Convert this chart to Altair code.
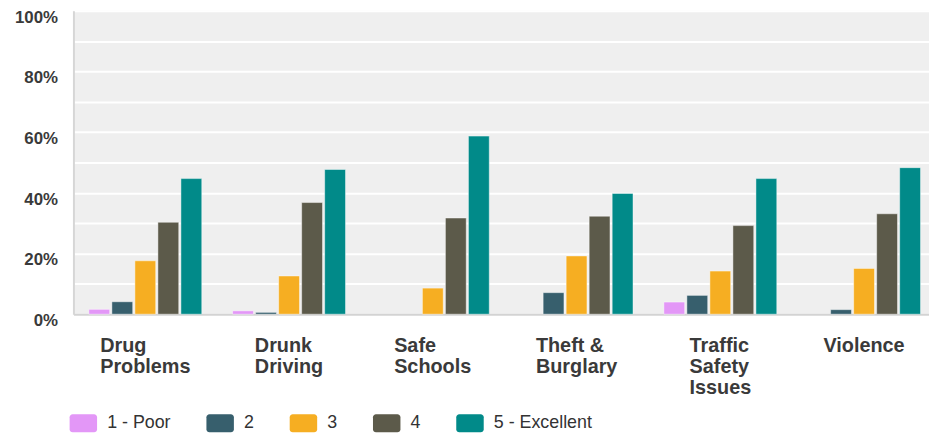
import altair as alt
import pandas as pd

categories = ["Drug Problems", "Drunk Driving", "Safe Schools",
              "Theft & Burglary", "Traffic Safety Issues", "Violence"]
label_lines = {
    "Drug Problems": ["Drug", "Problems"],
    "Drunk Driving": ["Drunk", "Driving"],
    "Safe Schools": ["Safe", "Schools"],
    "Theft & Burglary": ["Theft &", "Burglary"],
    "Traffic Safety Issues": ["Traffic", "Safety", "Issues"],
    "Violence": ["Violence"],
}
# half width of each (left-aligned) label block, used to centre the block
label_half_width = {
    "Drug Problems": 45.5,
    "Drunk Driving": 34.5,
    "Safe Schools": 39,
    "Theft & Burglary": 41,
    "Traffic Safety Issues": 31,
    "Violence": 41,
}

ratings = ["1 - Poor", "2", "3", "4", "5 - Excellent"]
poor = [1.6, 1.1, 0, 0, 4.0, 0]
r2 = [4.1, 0.6, 0, 7.1, 6.2, 1.5]
r3 = [17.6, 12.6, 8.6, 19.2, 14.2, 15.1]
r4 = [30.3, 36.8, 31.7, 32.3, 29.2, 33.1]
excellent = [44.7, 47.7, 58.7, 39.8, 44.7, 48.3]
colors = ["#e397f7", "#375f6d", "#f6ae22", "#5c5a4a", "#018a89"]

series = [poor, r2, r3, r4, excellent]
rows = []
for rating, vals in zip(ratings, series):
    for cat, v in zip(categories, vals):
        rows.append({"category": cat, "rating": rating, "value": v})
df = pd.DataFrame(rows)

label_expr = ""
for cat in categories:
    arr = "[" + ",".join("'" + s + "'" for s in label_lines[cat]) + "]"
    label_expr += f"datum.value == '{cat}' ? {arr} : "
label_expr += "datum.value"

offset_cond = {
    "condition": [
        {"test": f"datum.value == '{cat}'", "value": -label_half_width[cat]}
        for cat in categories
    ],
    "value": -40,
}

legend_shape = ("M-0.78,-0.65 H0.78 A0.22,0.22 0 0 1 1,-0.43 V0.43 "
                "A0.22,0.22 0 0 1 0.78,0.65 H-0.78 A0.22,0.22 0 0 1 -1,0.43 "
                "V-0.43 A0.22,0.22 0 0 1 -0.78,-0.65 Z")

FONT = "Liberation Sans"

chart = alt.Chart(df).transform_filter("datum.value > 0").mark_bar(
    stroke="#ffffff", strokeOpacity=0.45, strokeWidth=1
).encode(
    x=alt.X("category:N", sort=categories,
            scale=alt.Scale(range=[0, 870], paddingInner=0, paddingOuter=0),
            axis=alt.Axis(title=None, labelAngle=0, ticks=False, tickSize=0,
                          domain=True, domainColor="#d3d3d3", domainWidth=2,
                          grid=False, labelFont=FONT, labelFontSize=20,
                          labelFontWeight="bold", labelColor="#3a3a3a",
                          labelAlign="left", labelBaseline="top",
                          labelPadding=22, labelLineHeight=21,
                          labelOffset=offset_cond, labelExpr=label_expr,
                          labelOverlap=False, labelBound=False, labelFlush=False)),
    xOffset=alt.XOffset("rating:N", sort=ratings,
                        scale=alt.Scale(paddingInner=0.095, paddingOuter=0.67)),
    y=alt.Y("value:Q",
            scale=alt.Scale(domain=[0, 100], nice=False),
            axis=alt.Axis(title=None, values=list(range(0, 101, 10)),
                          labelExpr="datum.value % 20 == 0 ? datum.value + '%' : ''",
                          ticks=False, tickSize=0, domain=True,
                          domainColor="#d6d6d6", domainWidth=2,
                          grid=True, gridColor="#ffffff", gridWidth=2,
                          labelFont=FONT, labelFontSize=17, labelFontWeight="bold",
                          labelColor="#3a3a3a", labelPadding=16,
                          labelBaseline="middle", labelOffset=6.5)),
    color=alt.Color("rating:N", sort=ratings,
                    scale=alt.Scale(domain=ratings, range=colors),
                    legend=alt.Legend(title=None, orient="none", legendX=-4,
                                      legendY=401.5, direction="horizontal",
                                      symbolType=legend_shape, symbolSize=767,
                                      symbolStrokeWidth=0, symbolOpacity=1,
                                      labelFont=FONT, labelFontSize=18,
                                      labelColor="#333333", labelOffset=10,
                                      columnPadding=35, padding=0)),
).properties(
    width=863, height=306,
    autosize=alt.AutoSizeParams(type="none"),
    padding={"left": 66, "top": 1, "right": 0, "bottom": 120},
).configure_view(fill="#efefef", strokeWidth=0)

chart.save("out.html", embed_options={"renderer": "svg", "actions": False})
